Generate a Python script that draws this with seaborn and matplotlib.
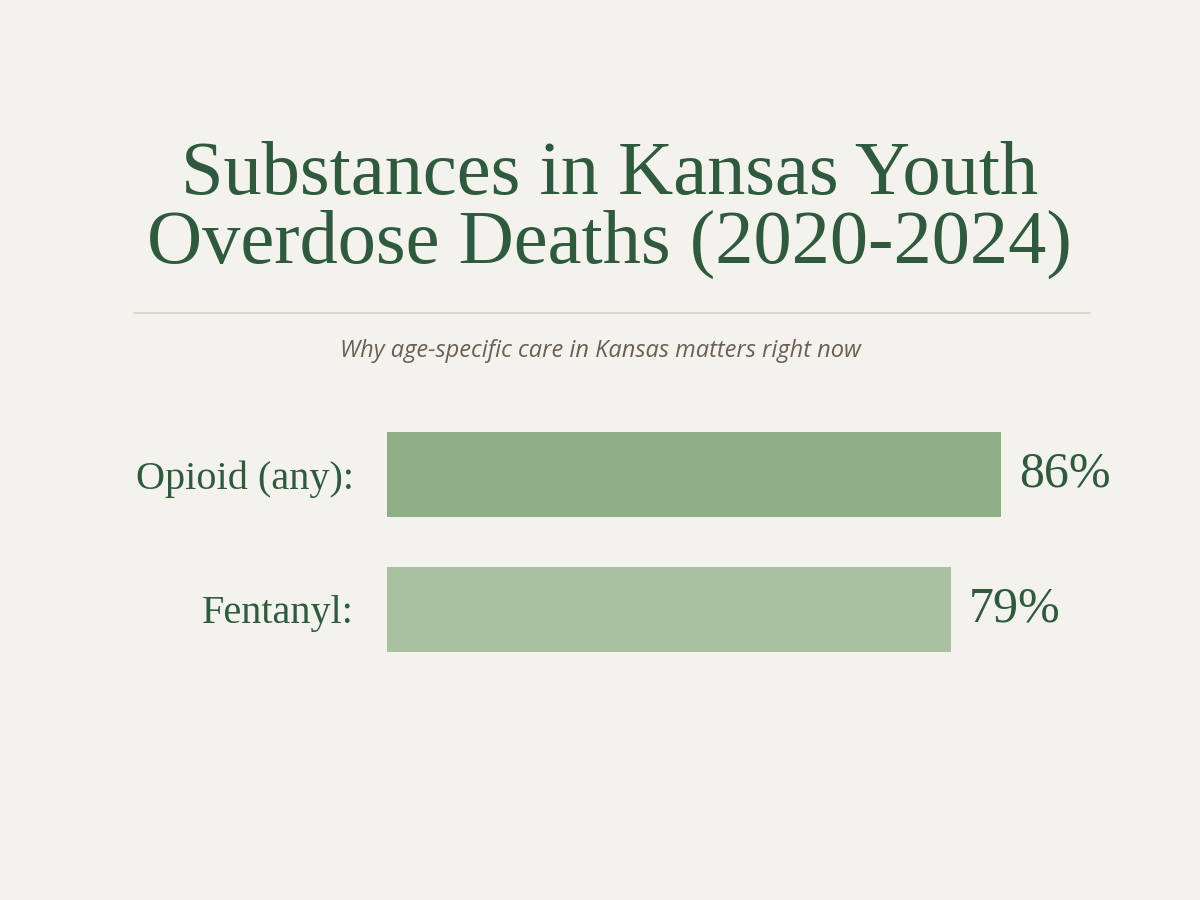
import matplotlib
matplotlib.use("Agg")
import matplotlib.pyplot as plt
import seaborn as sns
import pandas as pd

categories = ["Opioid (any):", "Fentanyl:"]
values = [86, 79]
value_labels = ["86%", "79%"]
bar_colors = ["#8eae88", "#a9c19f"]

sns.set_theme(style="white")
plt.rcParams['font.family'] = ['Liberation Serif', 'DejaVu Serif']

fig = plt.figure(figsize=(12, 9), dpi=100, facecolor="#f3f2ed")
green = "#2f5a3e"

fig.text(0.508, 0.805, "Substances in Kansas Youth", ha="center", va="center",
         fontsize=55, color=green)
fig.text(0.508, 0.728, "Overdose Deaths (2020-2024)", ha="center", va="center",
         fontsize=55, color=green)
fig.add_artist(plt.Line2D([0.112, 0.908], [0.652, 0.652], color="#cfd3c4", lw=1.2))
fig.text(0.5, 0.61, "Why age-specific care in Kansas matters right now", ha="center",
         va="center", fontsize=17, color="#6b5f55", style="italic",
         family=["Open Sans", "DejaVu Sans"])

df = pd.DataFrame({"cat": categories, "val": values})
ax = fig.add_axes([0.3225, 0.2756, 0.595, 0.2444])
ax.set_facecolor("none")
sns.barplot(data=df, y="cat", x="val", hue="cat", palette=bar_colors, orient="h",
            width=0.63, legend=False, ax=ax, saturation=1, linewidth=0)
ax.set_xlim(0, 100)
ax.set_ylim(1.315, -0.315)
for s in ax.spines.values():
    s.set_visible(False)
ax.set_xticks([])
ax.set_ylabel("")
ax.set_xlabel("")
ax.tick_params(axis="y", length=0, pad=24, labelsize=29, labelcolor=green)
for i, (v, lab) in enumerate(zip(values, value_labels)):
    ax.text(v + 2.5, i, lab, va="center", ha="left", fontsize=36, color=green)

fig.savefig("out.png", dpi=100, facecolor=fig.get_facecolor())
